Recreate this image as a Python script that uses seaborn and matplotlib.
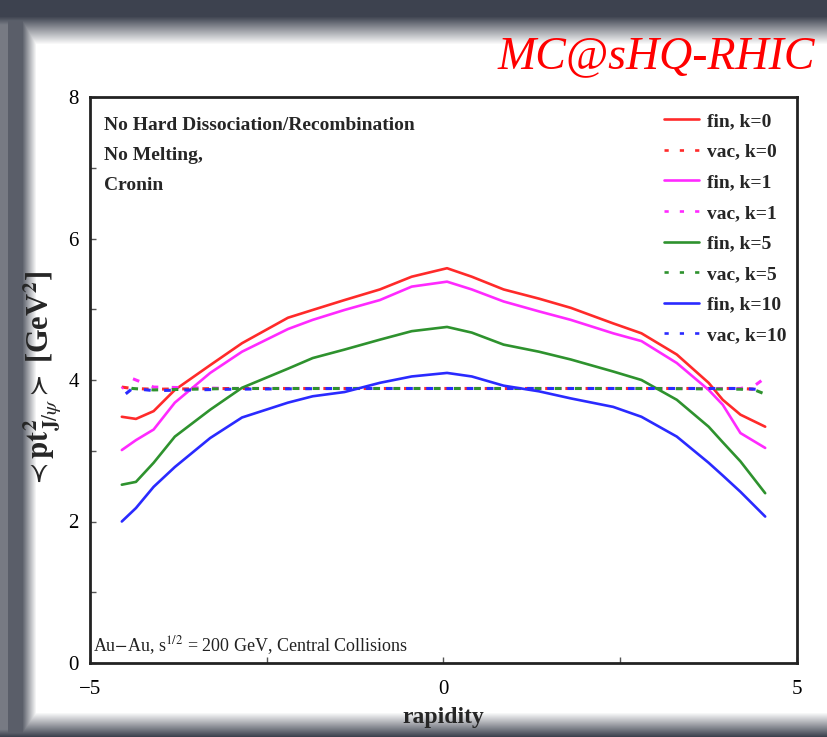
import numpy as np
import pandas as pd
import matplotlib
matplotlib.use("Agg")
import matplotlib.pyplot as plt
import seaborn as sns

# ---------------- data ----------------
rapidity_fin = [-4.55, -4.35, -4.1, -3.8, -3.3, -2.85, -2.2, -1.85, -1.4, -0.9, -0.45, 0.05,
                0.4, 0.85, 1.35, 1.8, 2.4, 2.8, 3.3, 3.75, 3.95, 4.2, 4.55]
fin_k0 = [3.48, 3.45, 3.56, 3.86, 4.21, 4.52, 4.88, 4.99, 5.13, 5.28, 5.46, 5.58,
          5.46, 5.28, 5.15, 5.02, 4.80, 4.66, 4.36, 3.96, 3.72, 3.51, 3.34]
fin_k1 = [3.01, 3.15, 3.30, 3.68, 4.10, 4.40, 4.72, 4.85, 4.99, 5.13, 5.32, 5.39,
          5.28, 5.11, 4.97, 4.85, 4.66, 4.55, 4.24, 3.86, 3.65, 3.25, 3.04]
fin_k5 = [2.52, 2.56, 2.83, 3.20, 3.58, 3.89, 4.16, 4.31, 4.43, 4.57, 4.69, 4.75,
          4.67, 4.50, 4.40, 4.29, 4.12, 4.00, 3.72, 3.34, 3.12, 2.85, 2.40]
fin_k10 = [2.00, 2.19, 2.49, 2.77, 3.18, 3.47, 3.68, 3.77, 3.83, 3.96, 4.05, 4.10,
           4.05, 3.92, 3.84, 3.74, 3.62, 3.48, 3.20, 2.83, 2.65, 2.42, 2.07]

rapidity_vac = [-4.55, -4.4, -4.1, -3.0, -1.5, 0.0, 1.5, 3.0, 4.2, 4.4, 4.55]
vac_k0 = [3.90, 3.88, 3.87, 3.88, 3.88, 3.88, 3.88, 3.88, 3.88, 3.87, 3.89]
vac_k1 = [3.88, 4.02, 3.90, 3.88, 3.88, 3.88, 3.88, 3.88, 3.88, 3.92, 4.03]
vac_k5 = [3.93, 3.88, 3.86, 3.88, 3.88, 3.88, 3.88, 3.88, 3.87, 3.86, 3.80]
vac_k10 = [3.76, 3.88, 3.85, 3.87, 3.88, 3.88, 3.88, 3.88, 3.88, 3.87, 3.85]

k_labels = ["k=0", "k=1", "k=5", "k=10"]
colors = ["#ff2a2a", "#ff2aff", "#2e922e", "#2a2aff"]

x_ticks = [-5, 0, 5]
y_ticks = [0, 2, 4, 6, 8]

# ---------------- style ----------------
sns.set_theme(style="ticks")
plt.rcParams["font.family"] = ["Liberation Serif", "DejaVu Serif"]
plt.rcParams["mathtext.fontset"] = "stix"

W, H = 828, 737
fig = plt.figure(figsize=(W / 100, H / 100), dpi=100)

# slide-photo background (decoration)
bg = fig.add_axes([0, 0, 1, 1], zorder=-10)
yy, xx = np.mgrid[0:H, 0:W].astype(float)
d_top = np.clip((44 - yy) / 28.0, 0, 1)
d_left = np.clip((36 - xx) / 14.0, 0, 1) * np.where(xx < 8, 0.7, 0.85)
d_bot = np.clip((yy - 712) / 24.0, 0, 1)
a = np.maximum.reduce([d_top, d_left, d_bot])
dark = np.array([0.24, 0.26, 0.31])
img = (1 - a)[..., None] * np.ones(3) + a[..., None] * dark
bg.imshow(img, extent=[0, W, H, 0], aspect="auto", interpolation="bilinear")
bg.set_axis_off()

ax = fig.add_axes([90 / W, (H - 663) / H, 707 / W, 566 / H])
ax.set_facecolor("white")

fin_series = [fin_k0, fin_k1, fin_k5, fin_k10]
vac_series = [vac_k0, vac_k1, vac_k5, vac_k10]
offsets = [0.0, 1.65, 3.3, 4.95]
dash = (2.2, 4.4)
for kl, col, fy, vy, off in zip(k_labels, colors, fin_series, vac_series, offsets):
    sns.lineplot(x=rapidity_fin, y=fy, ax=ax, color=col, linewidth=1.9,
                 label=f"fin, {kl}")
    sns.lineplot(x=rapidity_vac, y=vy, ax=ax, color=col, linewidth=2.2,
                 linestyle=(off, dash), label=f"vac, {kl}")

ax.set_xlim(-5, 5)
ax.set_ylim(0, 8)
ax.set_xticks(x_ticks)
ax.set_yticks(y_ticks)
ax.set_xticklabels([str(t).replace("-", "\u2212") for t in x_ticks])
ax.set_xticks([-2.5, 2.5], minor=True)
ax.set_yticks([1, 3, 5, 7], minor=True)
ax.tick_params(which="both", direction="in", length=4, width=1, colors="#555555",
               labelcolor="black", labelsize=15)
ax.tick_params(axis="x", pad=12)
ax.tick_params(axis="y", pad=8)
for s in ax.spines.values():
    s.set_linewidth(2)
    s.set_color("#222222")

ax.set_xlabel("rapidity", fontsize=17, fontweight="bold", labelpad=6)
ax.set_ylabel(r"$\prec\mathbf{pt}^{\mathbf{2}}_{\mathbf{J}/\psi}\succ$ [GeV$^{\mathbf{2}}$]",
              fontsize=22, fontweight="bold", labelpad=3)

ax.text(0.02, 0.942, "No Hard Dissociation/Recombination", transform=ax.transAxes,
        fontsize=14, fontweight="bold", va="baseline", ha="left")
ax.text(0.02, 0.889, "No Melting,", transform=ax.transAxes,
        fontsize=14, fontweight="bold", va="baseline", ha="left")
ax.text(0.02, 0.836, "Cronin", transform=ax.transAxes,
        fontsize=14, fontweight="bold", va="baseline", ha="left")
ax.text(0.004, 0.02, r"Au$-$Au, s$^{1/2}$ = 200 GeV, Central Collisions",
        transform=ax.transAxes, fontsize=13, va="baseline", ha="left", color="#222222")

leg = ax.legend(loc="upper left", bbox_to_anchor=(0.806, 0.98), frameon=False,
                prop={"weight": "bold", "size": 14}, handlelength=1.8,
                handletextpad=0.45, labelspacing=0.67, borderaxespad=0, borderpad=0.2)
for h, t in zip(leg.get_lines(), leg.get_texts()):
    if t.get_text().startswith("vac"):
        h.set_linestyle((0, (1.6, 4.2)))
        h.set_linewidth(1.9)

fig.text(0.984, 0.908, "MC@sHQ-RHIC", color="red", fontsize=33, fontstyle="italic",
         ha="right", va="baseline")

fig.savefig("out.png", dpi=100)
